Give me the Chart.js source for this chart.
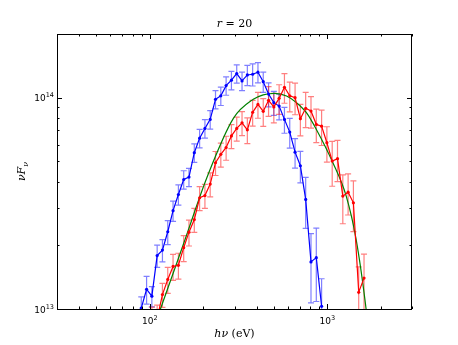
<!DOCTYPE html>
<html>
<head>
<meta charset="utf-8">
<script src="https://cdn.jsdelivr.net/npm/chart.js@4/dist/chart.umd.min.js"></script>
<style>
html, body { margin: 0; padding: 0; background: #fff; }
#wrap { width: 458px; height: 345px; }
</style>
</head>
<body>
<div id="wrap"><canvas id="chart" width="458" height="345"></canvas></div>
<script>
// energy bins (eV) and nuFnu (units of 1e13)
var blueE = [89.5, 95.9, 102.7, 110.0, 117.8, 126.2, 135.2, 144.9, 155.2, 166.2,
    178.1, 190.8, 204.4, 218.9, 234.5, 251.2, 269.1, 288.3, 308.8, 330.8,
    354.4, 379.6, 406.7, 435.6, 466.7, 499.7, 535.3, 573.5, 614.3, 658.2,
    705.1, 755.3, 809.2, 866.9, 928.6];
var blueF = [1.01, 1.24, 1.15, 1.79, 1.90, 2.32, 2.92, 3.48, 4.10, 4.21,
    5.49, 6.43, 7.15, 7.89, 9.82, 10.2, 11.4, 12.1, 13.0, 12.0,
    12.8, 12.9, 13.2, 11.9, 10.4, 9.47, 9.12, 7.89, 6.87, 5.52,
    4.76, 3.30, 1.67, 1.75, 1.03];
var blueErr = [0.13, 0.15, 0.11, 0.12, 0.12, 0.13, 0.11, 0.11, 0.10, 0.10,
    0.10, 0.10, 0.10, 0.10, 0.10, 0.10, 0.10, 0.10, 0.10, 0.10,
    0.11, 0.12, 0.11, 0.11, 0.13, 0.13, 0.14, 0.14, 0.16, 0.16,
    0.17, 0.27, 0.36, 0.38, 0.35];

var redE = [102.7, 110.0, 117.8, 126.2, 135.2, 144.9, 155.2, 166.2,
    178.1, 190.8, 204.4, 218.9, 234.5, 251.2, 269.1, 288.3, 308.8, 330.8,
    354.4, 379.6, 406.7, 435.6, 466.7, 499.7, 535.3, 573.5, 614.3, 658.2,
    705.1, 755.3, 809.2, 866.9, 928.6, 994.5, 1065.4, 1141.3, 1222.7, 1309.9,
    1402.8, 1502.9, 1610.0];
var redF = [0.88, 0.90, 1.17, 1.38, 1.59, 1.61, 1.95, 2.31,
    2.65, 3.36, 3.44, 3.90, 4.92, 5.39, 5.81, 6.59, 7.15, 7.60,
    7.04, 8.52, 9.29, 8.61, 9.71, 9.04, 9.92, 11.2, 10.2, 10.0,
    7.95, 8.90, 8.64, 7.47, 7.33, 6.12, 5.01, 5.14, 3.42, 3.57,
    3.18, 1.20, 1.40];
var redErr = [0.16, 0.16, 0.13, 0.14, 0.14, 0.14, 0.14, 0.14,
    0.13, 0.13, 0.13, 0.13, 0.13, 0.13, 0.13, 0.13, 0.13, 0.13,
    0.14, 0.14, 0.14, 0.15, 0.16, 0.16, 0.16, 0.16, 0.16, 0.17,
    0.17, 0.19, 0.17, 0.18, 0.19, 0.19, 0.24, 0.22, 0.26, 0.22,
    0.27, 0.32, 0.30];

var modelE = [100.9, 114.8, 155.1, 209.8, 295.7, 382.8, 435.5, 506.6, 589.3,
    670.2, 762.6, 867.7, 1075, 1278, 1454, 1654, 1726];
var modelF = [0.747, 1.00, 2.04, 4.19, 7.98, 9.82, 10.31, 10.48, 10.18,
    9.47, 8.49, 7.07, 4.92, 3.42, 2.13, 1.00, 0.716];

var xMajor = [100, 1000];
var xMinor = [40, 50, 60, 70, 80, 90, 200, 300, 400, 500, 600, 700, 800, 900, 2000, 3000];
var yMajor = [1e13, 1e14];
var yMinor = [2e13, 3e13, 4e13, 5e13, 6e13, 7e13, 8e13, 9e13, 2e14];

var UNIT = 1e13;

function pts(e, f) {
    return e.map(function(x, i) { return {x: x, y: f[i] * UNIT}; });
}

var errorBars = {
    id: 'errorBars',
    beforeDatasetsDraw: function(chart) {
        var ctx = chart.ctx, a = chart.chartArea;
        var xs = chart.scales.x, ys = chart.scales.y;
        var sets = [
            {e: blueE, f: blueF, s: blueErr, c: 'rgba(0,0,255,0.5)'},
            {e: redE, f: redF, s: redErr, c: 'rgba(255,0,0,0.5)'}
        ];
        ctx.save();
        ctx.beginPath();
        ctx.rect(a.left, a.top, a.right - a.left, a.bottom - a.top);
        ctx.clip();
        ctx.lineWidth = 1.2;
        sets.forEach(function(d) {
            ctx.strokeStyle = d.c;
            d.e.forEach(function(x, i) {
                var v = d.f[i] * UNIT;
                var px = xs.getPixelForValue(x);
                var top = ys.getPixelForValue(v * (1 + d.s[i]));
                var bot = ys.getPixelForValue(Math.max(v * (1 - d.s[i]), 1e11));
                ctx.beginPath();
                ctx.moveTo(px, top); ctx.lineTo(px, bot);
                ctx.moveTo(px - 3, top); ctx.lineTo(px + 3, top);
                ctx.moveTo(px - 3, bot); ctx.lineTo(px + 3, bot);
                ctx.stroke();
            });
        });
        ctx.restore();
    }
};

function supText(ctx, base, exp, x, y, align) {
    ctx.font = '9px "DejaVu Sans"';
    var wb = ctx.measureText(base).width;
    ctx.font = '6.5px "DejaVu Sans"';
    var we = ctx.measureText(exp).width;
    var start = align === 'right' ? x - wb - we : x - (wb + we) / 2;
    ctx.textAlign = 'left';
    ctx.textBaseline = 'alphabetic';
    ctx.font = '9px "DejaVu Sans"';
    ctx.fillText(base, start, y);
    ctx.font = '6.5px "DejaVu Sans"';
    ctx.fillText(exp, start + wb, y - 4);
}

function runs(ctx, parts, x, y) {
    // parts: [text, font, dy]
    var w = 0;
    parts.forEach(function(p) { ctx.font = p[1]; w += ctx.measureText(p[0]).width; });
    var cx = x - w / 2;
    parts.forEach(function(p) {
        ctx.font = p[1];
        ctx.fillText(p[0], cx, y + (p[2] || 0));
        cx += ctx.measureText(p[0]).width;
    });
}

var axesDecor = {
    id: 'axesDecor',
    afterDraw: function(chart) {
        var ctx = chart.ctx, a = chart.chartArea;
        var xs = chart.scales.x, ys = chart.scales.y;
        ctx.save();
        ctx.strokeStyle = '#000';
        ctx.fillStyle = '#000';
        ctx.lineWidth = 1;

        function xt(list, len) {
            list.forEach(function(v) {
                var px = Math.round(xs.getPixelForValue(v)) + 0.5;
                ctx.beginPath();
                ctx.moveTo(px, a.bottom); ctx.lineTo(px, a.bottom - len);
                ctx.moveTo(px, a.top); ctx.lineTo(px, a.top + len);
                ctx.stroke();
            });
        }
        function yt(list, len) {
            list.forEach(function(v) {
                var py = Math.round(ys.getPixelForValue(v)) + 0.5;
                ctx.beginPath();
                ctx.moveTo(a.left, py); ctx.lineTo(a.left + len, py);
                ctx.moveTo(a.right, py); ctx.lineTo(a.right - len, py);
                ctx.stroke();
            });
        }
        xt(xMajor, 5); xt(xMinor, 2.5);
        yt(yMajor, 5); yt(yMinor, 2.5);

        ctx.strokeRect(a.left + 0.5, a.top + 0.5, a.right - a.left - 1, a.bottom - a.top);

        xMajor.forEach(function(v) {
            var e = Math.round(Math.log10(v));
            supText(ctx, '10', String(e), xs.getPixelForValue(v), a.bottom + 15, 'center');
        });
        yMajor.forEach(function(v) {
            var e = Math.round(Math.log10(v));
            supText(ctx, '10', String(e), a.left - 3, ys.getPixelForValue(v) + 3.5, 'right');
        });

        ctx.textAlign = 'left';
        ctx.textBaseline = 'alphabetic';
        var mid = (a.left + a.right) / 2;
        runs(ctx, [['r', 'italic 11px "DejaVu Serif"'], [' = 20', '11px "DejaVu Serif"']], mid, 27);
        runs(ctx, [['h\u03bd', 'italic 11px "DejaVu Serif"'], [' (eV)', '11px "DejaVu Serif"']], mid, 337);

        ctx.translate(25, (a.top + a.bottom) / 2);
        ctx.rotate(-Math.PI / 2);
        runs(ctx, [['\u03bdF', 'italic 11px "DejaVu Serif"'], ['\u03bd', 'italic 8px "DejaVu Serif"', 3]], 0, 0);
        ctx.restore();
    }
};

new Chart(document.getElementById('chart'), {
    type: 'line',
    data: {
        datasets: [
            {data: pts(redE, redF), borderColor: '#ff0000', backgroundColor: '#ff0000',
             borderWidth: 1.2, pointRadius: 1.6, pointBorderWidth: 0, tension: 0},
            {data: pts(blueE, blueF), borderColor: '#0000ff', backgroundColor: '#0000ff',
             borderWidth: 1.2, pointRadius: 1.6, pointBorderWidth: 0, tension: 0},
            {data: pts(modelE, modelF), borderColor: '#008000', borderWidth: 1.2,
             pointRadius: 0, cubicInterpolationMode: 'monotone'}
        ]
    },
    options: {
        responsive: false,
        animation: false,
        layout: {padding: {left: 0, top: 34, right: 46, bottom: 0}},
        plugins: {legend: {display: false}, tooltip: {enabled: false}, title: {display: false}},
        scales: {
            x: {
                type: 'logarithmic', min: 30, max: 3000,
                ticks: {display: false}, grid: {display: false}, border: {display: false},
                afterFit: function(s) { s.height = 36; }
            },
            y: {
                type: 'logarithmic', min: 1e13, max: 2e14,
                ticks: {display: false}, grid: {display: false}, border: {display: false},
                afterFit: function(s) { s.width = 57; }
            }
        }
    },
    plugins: [errorBars, axesDecor]
});
</script>
</body>
</html>
